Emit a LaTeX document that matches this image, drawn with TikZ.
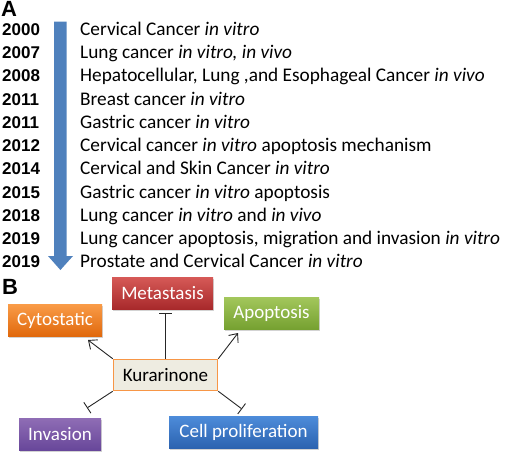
\documentclass[tikz,border=0pt]{standalone}
\usepackage{fontspec}
\setmainfont{Carlito}
\newfontfamily\yearfont{Liberation Sans}
\usetikzlibrary{arrows.meta,shadows}
\definecolor{arrowblue}{HTML}{4F81BD}
\definecolor{kurfill}{HTML}{EEECE1}
\definecolor{kurdraw}{HTML}{F79646}
\definecolor{metT}{HTML}{D65A57}\definecolor{metB}{HTML}{A8292B}
\definecolor{cytT}{HTML}{F99B47}\definecolor{cytB}{HTML}{E0680C}
\definecolor{apoT}{HTML}{A3C75C}\definecolor{apoB}{HTML}{76A131}
\definecolor{invT}{HTML}{8F6DB5}\definecolor{invB}{HTML}{68479A}
\definecolor{celT}{HTML}{4D8CDA}\definecolor{celB}{HTML}{2C63B0}
\tikzset{
  yr/.style={anchor=base west,inner sep=0pt,font=\yearfont\bfseries\fontsize{17}{18}\selectfont},
  entry/.style={anchor=base west,inner sep=0pt,font=\fontsize{19.3}{20}\selectfont},
  panel/.style={anchor=base west,inner sep=0pt,font=\yearfont\bfseries\fontsize{22}{23}\selectfont},
  effbox/.style={inner sep=0pt,text=white,font=\fontsize{19}{20}\selectfont,minimum height=32pt,
    drop shadow={opacity=0.35,shadow xshift=1pt,shadow yshift=-1.5pt}},
  conn/.style={draw=black!85,line width=0.9pt},
  act/.style={conn,-{Straight Barb[length=7pt,width=12pt,line width=0.9pt]}},
  inh/.style={conn,-{Bar[width=13pt,line width=0.9pt]}},
}
\begin{document}
\begin{tikzpicture}[x=1pt,y=-1pt]
\useasboundingbox (0,0) rectangle (505,457);
% Panel A
\node[panel] (A) at (1,17) {A};
\fill[arrowblue] (54,21.7) -- (66.7,21.7) -- (66.7,256) -- (73,256) -- (60.4,270) -- (48,256) -- (54,256) -- cycle;
\foreach \i/\y/\t in {0/2000/Cervical Cancer \textit{in vitro},
  1/2007/Lung cancer \textit{in vitro, in vivo},
  2/2008/{Hepatocellular, Lung ,and Esophageal Cancer \textit{in vivo}},
  3/2011/Breast cancer \textit{in vitro},
  4/2011/Gastric cancer \textit{in vitro},
  5/2012/Cervical cancer \textit{in vitro} apoptosis mechanism,
  6/2014/Cervical and Skin Cancer \textit{in vitro},
  7/2015/Gastric cancer \textit{in vitro} apoptosis,
  8/2018/Lung cancer \textit{in vitro} and \textit{in vivo},
  9/2019/{Lung cancer apoptosis, migration and invasion \textit{in vitro}},
  10/2019/Prostate and Cervical Cancer \textit{in vitro}}{
  \node[yr] (y\i) at (2,35.3+23.25*\i) {\y};
  \node[entry] (t\i) at (80,35.3+23.25*\i) {\t};
}
% Panel B
\node[panel] (B) at (2,294) {B};
\node[effbox,minimum width=101pt,top color=metT,bottom color=metB] (met) at (162.5,293) {Metastasis};
\node[effbox,minimum width=94pt,top color=cytT,bottom color=cytB] (cyt) at (55,320.5) {Cytostatic};
\node[effbox,minimum width=95pt,top color=apoT,bottom color=apoB] (apo) at (271.5,313) {Apoptosis};
\node[effbox,minimum width=82pt,top color=invT,bottom color=invB] (inv) at (60,434) {Invasion};
\node[effbox,minimum width=149pt,top color=celT,bottom color=celB] (cel) at (243.5,432) {Cell proliferation};
\node[draw=kurdraw,line width=1.5pt,fill=kurfill,minimum width=104pt,minimum height=31pt,inner sep=0pt,
  font=\fontsize{19}{20}\selectfont] (kur) at (165.5,375) {Kurarinone};
\coordinate (cytend) at (88,340);
\coordinate (metend) at (kur.north |- 0,313);
\coordinate (apoend) at (238,333);
\coordinate (invend) at (87,408);
\coordinate (celend) at (242,409);
\draw[act] (kur.north west) -- (cytend);
\draw[inh] (kur.north) -- (metend);
\draw[act] (kur.north east) -- (apoend);
\draw[inh] (kur.south west) -- (invend);
\draw[inh] (kur.south east) -- (celend);
\end{tikzpicture}
\end{document}
